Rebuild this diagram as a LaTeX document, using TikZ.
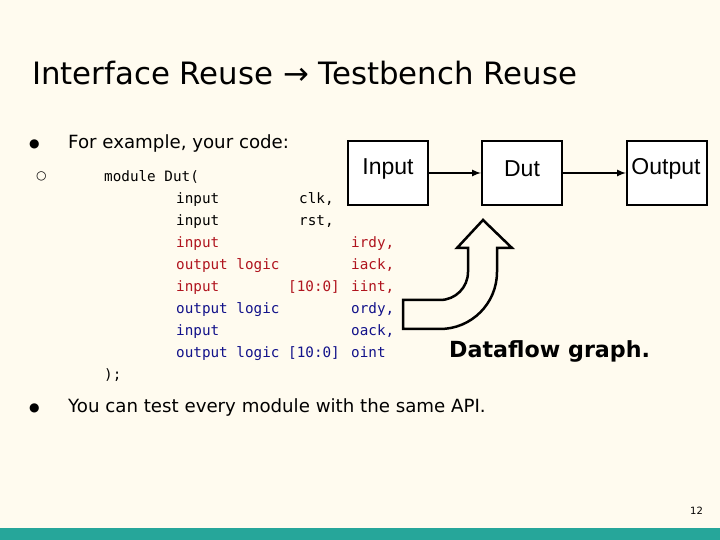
\documentclass[tikz,border=0pt]{standalone}
\usepackage{fontspec}
\setmainfont{DejaVu Sans}
\newfontfamily\arial{Liberation Sans}
\newfontfamily\codefont{DejaVu Sans Mono}
\definecolor{bg}{HTML}{FFFBEF}
\definecolor{teal}{HTML}{26A69A}
\definecolor{cred}{HTML}{B0141E}
\definecolor{cblue}{HTML}{12128A}
\begin{document}
\begin{tikzpicture}[x=1pt,y=1pt,
  box/.style={draw,line width=2pt,fill=white,minimum width=80pt,minimum height=64pt,inner sep=0,font=\arial\fontsize{23}{23}\selectfont},
  lbl/.style={inner sep=0,font=\arial\fontsize{23}{23}\selectfont},
  code/.style={anchor=base west,inner sep=0,font=\codefont\fontsize{14.3}{15}\selectfont},
  txt/.style={anchor=base west,inner sep=0,font=\fontsize{18.2}{20}\selectfont},
  bul/.style={anchor=base west,inner sep=0,font=\fontsize{12}{12}\selectfont},
  flow/.style={-latex,line width=2pt}]
\fill[bg] (0,0) rectangle (720,540);
\useasboundingbox (0,0) rectangle (720,540);
\fill[teal] (0,0) rectangle (720,12);
\node[anchor=base west,inner sep=0,font=\fontsize{30.8}{32}\selectfont] (title) at (32,455) {Interface Reuse → Testbench Reuse};
\node[bul] (b1) at (29,392) {●};
\node[txt] (t1) at (68,391) {For example, your code:};
\node[bul] (b2) at (36,360) {○};
\node[bul] (b3) at (29,128) {●};
\node[txt] (t3) at (68,127) {You can test every module with the same API.};
\node[anchor=base west,inner sep=0,font=\fontsize{10}{11}\selectfont] (pg) at (690,25) {12};
% code
\node[code] (m0) at (104,358) {module Dut(};
\node[code] (k1) at (176,336) {input}; \node[code] (n1) at (299,336) {clk,};
\node[code] (k2) at (176,314) {input}; \node[code] (n2) at (299,314) {rst,};
\node[code,text=cred] (k3) at (176,292) {input}; \node[code,text=cred] (n3) at (351,292) {irdy,};
\node[code,text=cred] (k4) at (176,270) {output logic}; \node[code,text=cred] (n4) at (351,270) {iack,};
\node[code,text=cred] (k5) at (176,248) {input}; \node[code,text=cred] (r5) at (288,248) {[10:0]}; \node[code,text=cred] (n5) at (351,248) {iint,};
\node[code,text=cblue] (k6) at (176,226) {output logic}; \node[code,text=cblue] (n6) at (351,226) {ordy,};
\node[code,text=cblue] (k7) at (176,204) {input}; \node[code,text=cblue] (n7) at (351,204) {oack,};
\node[code,text=cblue] (k8) at (176,182) {output logic}; \node[code,text=cblue] (r8) at (288,182) {[10:0]}; \node[code,text=cblue] (n8) at (351,182) {oint};
\node[code] (m9) at (104,160) {);};
% dataflow
\node[box] (in) at (388,367) {};
\node[box] (dut) at (522,367) {};
\node[box] (out) at (667,367) {};
\node[lbl] (inl) at (388,371) {Input};
\node[lbl] (dutl) at (522,371) {Dut};
\node[lbl] (outl) at (666,371) {Output};
\draw[flow] (in) -- (dut);
\draw[flow] (dut) -- (out);
\draw[line width=2.5pt] (403,211) -- (440,211) arc[start angle=-90,end angle=0,radius=57]
  -- (497,292) -- (512,292) -- (483,320) -- (457,292) -- (468,292) -- (468,268)
  arc[start angle=0,end angle=-90,radius=28] -- (403,240) -- cycle;
\node[anchor=base west,inner sep=0,font=\bfseries\fontsize{22.2}{23}\selectfont] (df) at (449,182) {Dataflow graph.};
\end{tikzpicture}
\end{document}
